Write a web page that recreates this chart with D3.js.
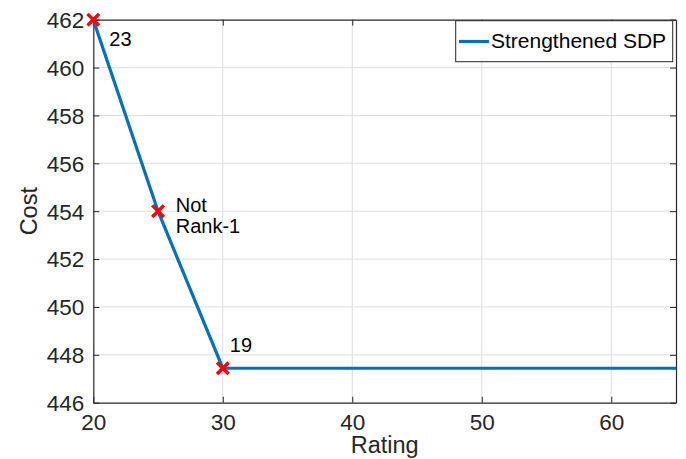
<!DOCTYPE html>
<html><head><meta charset="utf-8">
<script src="https://cdn.jsdelivr.net/npm/d3@7"></script>
<style>
body{margin:0;background:#fff;}
svg{display:block;font-family:"Liberation Sans",Arial,Helvetica,sans-serif;}
</style></head>
<body>
<svg id="chart" width="686" height="459"></svg>
<script>
const rating = [20, 25, 30, 65];
const cost = [462, 454, 447.44, 447.44];
const markerRating = [20, 25, 30];
const markerCost = [462, 454, 447.44];
const markerLabels = [["23"], ["Not", "Rank-1"], ["19"]];
const xTicks = [20, 30, 40, 50, 60];
const yTicks = [446, 448, 450, 452, 454, 456, 458, 460, 462];
const seriesName = "Strengthened SDP";

const svg = d3.select("#chart");
const L = 93.3, R = 676, T = 19.7, B = 402.7;
const x = d3.scaleLinear().domain([20, 65]).range([L, R]);
const y = d3.scaleLinear().domain([446, 462]).range([B, T]);
const axisCol = "#262626", gridCol = "#dfdfdf";

// grid
svg.append("g").selectAll("line").data(xTicks.filter(d => d > 20))
  .join("line").attr("x1", d => x(d)).attr("x2", d => x(d)).attr("y1", T).attr("y2", B)
  .attr("stroke", gridCol).attr("stroke-width", 1);
svg.append("g").selectAll("line").data(yTicks.filter(d => d > 446 && d < 462))
  .join("line").attr("y1", d => y(d)).attr("y2", d => y(d)).attr("x1", L).attr("x2", R)
  .attr("stroke", gridCol).attr("stroke-width", 1);

// axes
const tk = 6;
const xa = svg.append("g").attr("transform", `translate(0,${B})`)
  .call(d3.axisBottom(x).tickValues(xTicks).tickSizeInner(-tk).tickSizeOuter(0).tickPadding(12));
const xaTop = svg.append("g").attr("transform", `translate(0,${T})`)
  .call(d3.axisTop(x).tickValues(xTicks).tickSizeInner(-tk).tickSizeOuter(0).tickFormat(""));
const ya = svg.append("g").attr("transform", `translate(${L},0)`)
  .call(d3.axisLeft(y).tickValues(yTicks).tickSizeInner(-tk).tickSizeOuter(0).tickPadding(9));
const yaR = svg.append("g").attr("transform", `translate(${R},0)`)
  .call(d3.axisRight(y).tickValues(yTicks).tickSizeInner(-tk).tickSizeOuter(0).tickFormat(""));
[xa, xaTop, ya, yaR].forEach(g => {
  g.select(".domain").attr("stroke", axisCol).attr("stroke-width", 1.2);
  g.selectAll(".tick line").attr("stroke", axisCol).attr("stroke-width", 1);
  g.selectAll(".tick text").attr("fill", axisCol).style("font-size", "22.5px")
    .style("font-family", "'Liberation Sans',Arial,sans-serif");
});
xa.selectAll(".tick text").attr("dy", "0.71em").attr("y", 11);
ya.selectAll(".tick text").attr("dy", "0.35em");

// axis labels
svg.append("text").attr("x", (L + R) / 2).attr("y", 453).attr("text-anchor", "middle")
  .attr("fill", axisCol).style("font-size", "23.5px").text("Rating");
svg.append("text").attr("transform", `translate(37,${(T + B) / 2}) rotate(-90)`)
  .attr("text-anchor", "middle").attr("fill", axisCol).style("font-size", "23.5px").text("Cost");

// line
const line = d3.line().x((d, i) => x(rating[i])).y((d, i) => y(cost[i]));
svg.append("path").datum(rating).attr("d", line).attr("fill", "none")
  .attr("stroke", "#0072BD").attr("stroke-width", 3.2);

// markers
const ms = 5.8;
svg.append("g").selectAll("path").data(markerRating).join("path")
  .attr("d", (d, i) => {
    const cx = x(d), cy = y(markerCost[i]);
    return `M${cx - ms},${cy - ms}L${cx + ms},${cy + ms}M${cx - ms},${cy + ms}L${cx + ms},${cy - ms}`;
  })
  .attr("stroke", "#ff0000").attr("stroke-width", 3.4).attr("fill", "none");

// marker labels
const offs = [[16, 26], [17.7, 0.5], [7, -16]];
markerLabels.forEach((lines, i) => {
  const t = svg.append("text").attr("x", x(markerRating[i]) + offs[i][0])
    .attr("y", y(markerCost[i]) + offs[i][1]).attr("fill", "#000").style("font-size", "20px");
  lines.forEach((s, j) => t.append("tspan").attr("x", x(markerRating[i]) + offs[i][0])
    .attr("dy", j === 0 ? 0 : 21).text(s));
});

// legend
const lg = svg.append("g");
lg.append("rect").attr("x", 455.7).attr("y", 20.7).attr("width", 217).attr("height", 41)
  .attr("fill", "#fff").attr("stroke", axisCol).attr("stroke-width", 1);
lg.append("line").attr("x1", 459).attr("x2", 489).attr("y1", 41.5).attr("y2", 41.5)
  .attr("stroke", "#0072BD").attr("stroke-width", 3.2);
lg.append("text").attr("x", 491).attr("y", 47.5).attr("fill", "#000").style("font-size", "21px")
  .text(seriesName);
</script>
</body></html>
